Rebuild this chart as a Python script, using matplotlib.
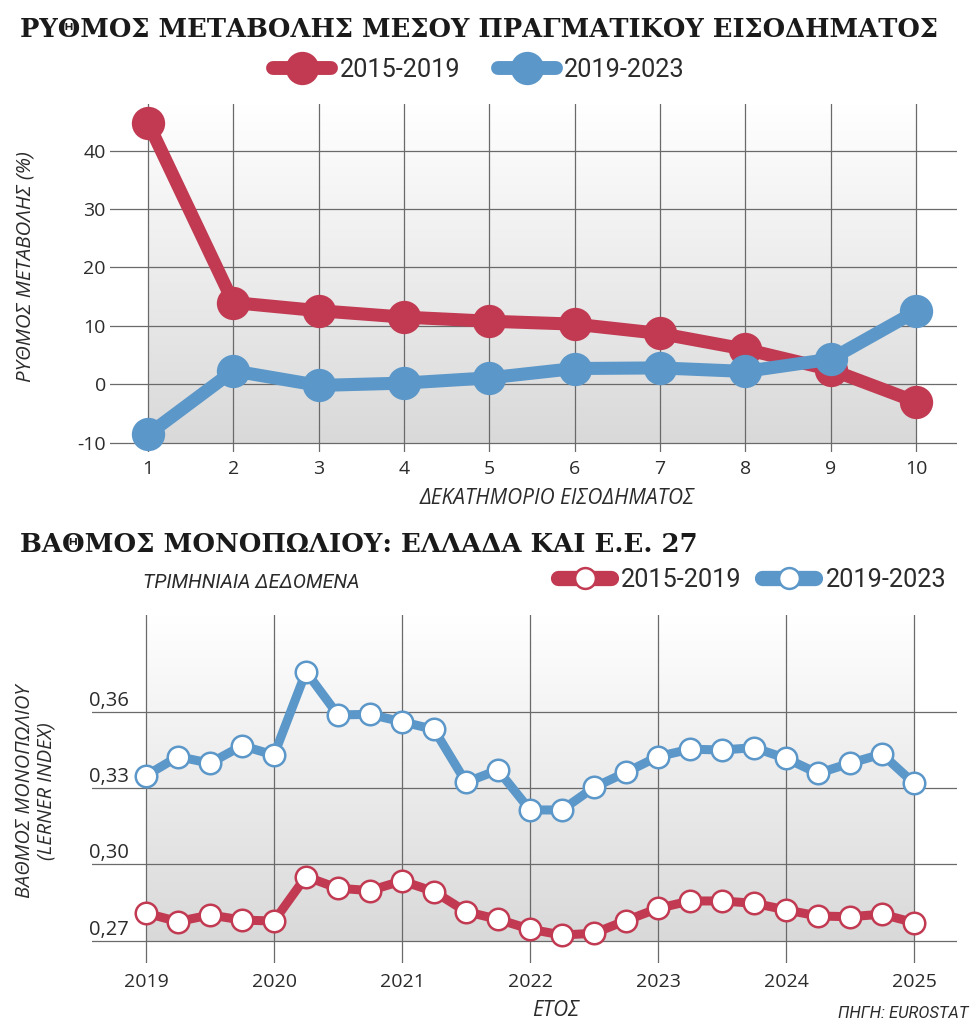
import numpy as np
import matplotlib
matplotlib.use('Agg')
import matplotlib.pyplot as plt
from matplotlib import font_manager as fm
from matplotlib.lines import Line2D
from matplotlib.colors import LinearSegmentedColormap

# ---------------- data ----------------
deciles = [1, 2, 3, 4, 5, 6, 7, 8, 9, 10]
income_2015_2019 = [44.8, 14.0, 12.6, 11.5, 10.8, 10.3, 8.7, 6.0, 2.5, -3.0]
income_2019_2023 = [-8.6, 2.3, -0.2, 0.2, 1.1, 2.7, 2.8, 2.2, 4.3, 12.5]
top_yticks = [-10, 0, 10, 20, 30, 40]

quarters = [2019.0, 2019.25, 2019.5, 2019.75,
            2020.0, 2020.25, 2020.5, 2020.75,
            2021.0, 2021.25, 2021.5, 2021.75,
            2022.0, 2022.25, 2022.5, 2022.75,
            2023.0, 2023.25, 2023.5, 2023.75,
            2024.0, 2024.25, 2024.5, 2024.75,
            2025.0]
lerner_2015_2019 = [0.2808, 0.2775, 0.2801, 0.2781, 0.2777,
                    0.2952, 0.2906, 0.2897, 0.2935, 0.2893,
                    0.2814, 0.2784, 0.2745, 0.2722, 0.2729,
                    0.2779, 0.2827, 0.2856, 0.2856, 0.2847,
                    0.2821, 0.2797, 0.2794, 0.2804, 0.2771]
lerner_2019_2023 = [0.3349, 0.3424, 0.3398, 0.3467, 0.3430,
                    0.3758, 0.3588, 0.3590, 0.3561, 0.3531,
                    0.3323, 0.3371, 0.3214, 0.3214, 0.3303,
                    0.3362, 0.3424, 0.3453, 0.3450, 0.3459,
                    0.3417, 0.3358, 0.3398, 0.3434, 0.3319]
bottom_yticks = [0.27, 0.30, 0.33, 0.36]
bottom_ytick_labels = ['0,27', '0,30', '0,33', '0,36']
years = [2019, 2020, 2021, 2022, 2023, 2024, 2025]
series_labels = ['2015-2019', '2019-2023']

# ---------------- style ----------------
plt.rcParams['axes.unicode_minus'] = False
RED = '#c13a52'
BLUE = '#5b97c9'
GRID = '#6a6a6a'
TXT = '#2b2b2b'
W, H = 980, 1026

names = {f.name for f in fm.fontManager.ttflist}
NARROW = 'Liberation Sans Narrow' if 'Liberation Sans Narrow' in names else 'Roboto'
SANS = 'Open Sans' if 'Open Sans' in names else 'DejaVu Sans'
SERIF = 'DejaVu Serif'

fig = plt.figure(figsize=(W / 100, H / 100), dpi=100)
fig.patch.set_facecolor('white')


def fx(px):
    return px / W


def fy(py):
    return 1 - py / H


def axes_px(left, top, right, bottom):
    return fig.add_axes([fx(left), fy(bottom), (right - left) / W, (bottom - top) / H])


grad_cmap = LinearSegmentedColormap.from_list('g', ['#d9d9d9', '#ffffff'])
grad = np.linspace(0, 1, 256).reshape(-1, 1)

# ---------------- top chart ----------------
ax1 = axes_px(110, 104, 957, 452)
ax1.set_xlim(0.555, 10.48)
ax1.set_ylim(-11.6, 48.0)
ax1.imshow(grad, cmap=grad_cmap, extent=(1, 10, -10, 48), origin='lower',
           aspect='auto', zorder=0)
ax1.set_xticks(deciles)
ax1.set_yticks(top_yticks)
ax1.set_axisbelow(True)
ax1.grid(True, color=GRID, lw=0.9)
for s in ax1.spines.values():
    s.set_visible(False)
ax1.tick_params(length=0, labelsize=14, labelcolor=TXT)
ax1.tick_params(axis='x', pad=6)
ax1.tick_params(axis='y', pad=3)
for lab in ax1.get_xticklabels() + ax1.get_yticklabels():
    lab.set_fontfamily(SANS)

ax1.plot(deciles, income_2015_2019, color=RED, lw=9.4, marker='o', ms=24,
         mec='none', solid_joinstyle='round', zorder=3, clip_on=False)
ax1.plot(deciles, income_2019_2023, color=BLUE, lw=9.4, marker='o', ms=24,
         mec='none', solid_joinstyle='round', zorder=4, clip_on=False)

# ---------------- bottom chart ----------------
ax2 = axes_px(92, 615, 957, 963)
ax2.set_xlim(2018.578, 2025.336)
ax2.set_ylim(0.2612, 0.3981)
ax2.imshow(grad, cmap=grad_cmap, extent=(2019, 2025, 0.27, 0.3981), origin='lower',
           aspect='auto', zorder=0)
ax2.set_xticks(years)
ax2.set_yticks(bottom_yticks)
ax2.set_axisbelow(True)
ax2.grid(True, color=GRID, lw=0.9)
for s in ax2.spines.values():
    s.set_visible(False)
ax2.tick_params(length=0, labelsize=14, labelcolor=TXT, labelleft=False)
ax2.tick_params(axis='x', pad=7)
for lab in ax2.get_xticklabels():
    lab.set_fontfamily(SANS)
for v, l in zip(bottom_yticks, bottom_ytick_labels):
    ax2.text(-0.004, v + 0.0024, l, transform=ax2.get_yaxis_transform(),
             ha='left', va='baseline', fontsize=14.5, color=TXT, family=SANS)

ax2.plot(quarters, lerner_2015_2019, color=RED, lw=6.5, marker='o', ms=15.5,
         mfc='white', mec=RED, mew=1.8, solid_joinstyle='round', zorder=3, clip_on=False)
ax2.plot(quarters, lerner_2019_2023, color=BLUE, lw=6.5, marker='o', ms=15.5,
         mfc='white', mec=BLUE, mew=1.8, solid_joinstyle='round', zorder=4, clip_on=False)

# ---------------- texts ----------------
renderer = fig.canvas.get_renderer()


def fit(t, width_px):
    bb = t.get_window_extent(renderer)
    t.set_fontsize(t.get_fontsize() * width_px / bb.width)
    return t


t1 = fig.text(fx(20), fy(30), 'ΡΥΘΜΟΣ ΜΕΤΑΒΟΛΗΣ ΜΕΣΟΥ ΠΡΑΓΜΑΤΙΚΟΥ ΕΙΣΟΔΗΜΑΤΟΣ',
              ha='left', va='center', fontsize=24, fontweight='bold', family=SERIF,
              color='#1a1a1a')
fit(t1, 918)
t2 = fig.text(fx(20), fy(545), 'ΒΑΘΜΟΣ ΜΟΝΟΠΩΛΙΟΥ: ΕΛΛΑΔΑ ΚΑΙ Ε.Ε. 27',
              ha='left', va='center', fontsize=24, fontweight='bold', family=SERIF,
              color='#1a1a1a')
fit(t2, 680)

yl1 = fig.text(fx(25), fy(267), 'ΡΥΘΜΟΣ ΜΕΤΑΒΟΛΗΣ (%)', rotation=90, ha='center',
               va='center', fontsize=12, style='italic', family=SANS, color=TXT)
fit_h = yl1.get_window_extent(renderer).height
yl1.set_fontsize(yl1.get_fontsize() * 230 / fit_h)

xl1 = fig.text(fx(557), fy(498), 'ΔΕΚΑΤΗΜΟΡΙΟ ΕΙΣΟΔΗΜΑΤΟΣ', ha='center', va='center',
               fontsize=12, style='italic', family=SANS, color=TXT)
fit(xl1, 274)

yl2 = fig.text(fx(36), fy(791), 'ΒΑΘΜΟΣ ΜΟΝΟΠΩΛΙΟΥ\n(LERNER INDEX)', rotation=90,
               ha='center', va='center', ma='center', fontsize=12, style='italic',
               family=SANS, color=TXT, linespacing=1.1)
h2 = yl2.get_window_extent(renderer).height
yl2.set_fontsize(yl2.get_fontsize() * 213 / h2)

sub = fig.text(fx(143), fy(583), 'ΤΡΙΜΗΝΙΑΙΑ ΔΕΔΟΜΕΝΑ', ha='left', va='center',
               fontsize=14, style='italic', family=NARROW, color=TXT)
fit(sub, 217)

et = fig.text(fx(556), fy(1010), 'ΕΤΟΣ', ha='center', va='center', fontsize=13,
              style='italic', family=SANS, color=TXT)
fit(et, 47)
src = fig.text(fx(968), fy(1014), 'ΠΗΓΗ: EUROSTAT', ha='right', va='center', fontsize=11,
               style='italic', family=NARROW, color=TXT)
fit(src, 130)

# ---------------- legends ----------------
LEG_SIZE = 18.2
h_top = [Line2D([], [], color=RED, lw=10, marker='o', ms=24, mec='none',
                solid_capstyle='round'),
         Line2D([], [], color=BLUE, lw=10, marker='o', ms=24, mec='none',
                solid_capstyle='round')]
leg1 = fig.legend(h_top, series_labels, loc='center', bbox_to_anchor=(fx(479), fy(70)),
                  ncol=2, frameon=False, handlelength=2.3, handletextpad=0.32,
                  columnspacing=1.5, prop={'family': NARROW, 'size': LEG_SIZE},
                  labelcolor=TXT, borderpad=0, borderaxespad=0)

h_bot = [Line2D([], [], color=RED, lw=11, marker='o', ms=15, mfc='white', mec=RED,
                mew=1.8, solid_capstyle='round'),
         Line2D([], [], color=BLUE, lw=11, marker='o', ms=15, mfc='white', mec=BLUE,
                mew=1.8, solid_capstyle='round')]
leg2 = fig.legend(h_bot, series_labels, loc='center right',
                  bbox_to_anchor=(fx(946), fy(580)), ncol=2, frameon=False,
                  handlelength=2.1, handletextpad=0.4, columnspacing=0.8,
                  prop={'family': NARROW, 'size': LEG_SIZE}, labelcolor=TXT,
                  borderpad=0, borderaxespad=0)

fig.savefig('out.png', dpi=100, facecolor='white')
